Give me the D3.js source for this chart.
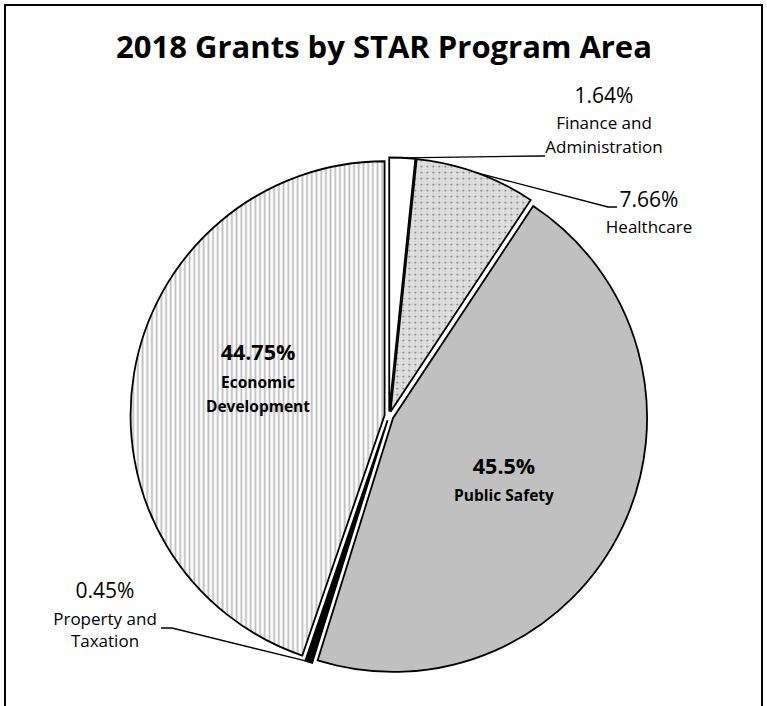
<!DOCTYPE html>
<html><head><meta charset="utf-8">
<script src="https://cdn.jsdelivr.net/npm/d3@7"></script>
<style>body{margin:0;background:#fff}</style>
</head><body><svg id="c" width="767" height="706"></svg>
<script>
const title = "2018 Grants by STAR Program Area";
const categories = ["Finance and Administration","Healthcare","Public Safety","Property and Taxation","Economic Development"];
const values = [1.64, 7.66, 45.5, 0.45, 44.75];
const valueLabels = ["1.64%","7.66%","45.5%","0.45%","44.75%"];
const nameLines = [["Finance and","Administration"],["Healthcare"],["Public Safety"],["Property and","Taxation"],["Economic","Development"]];
const fills = ["#ffffff","url(#dots)","#c0c0c0","#000000","url(#vlines)"];

// layout
const cx = 389, cy = 416, R = 254, explode = 4.5;
const labelLayout = [
  {inside:false, x:604, y:103, gap:[26,24], leader:[[540,156],[545,156]]},
  {inside:false, x:649, y:207, gap:[26], leader:[[608,207],[617,207]]},
  {inside:true,  x:504, y:474, gap:[27]},
  {inside:false, x:105, y:598, gap:[27,22], leader:[[172,628],[161,628]]},
  {inside:true,  x:258, y:360, gap:[28,24]}
];

const svg = d3.select("#c");
const defs = svg.append("defs");
const pv = defs.append("pattern").attr("id","vlines").attr("patternUnits","userSpaceOnUse")
  .attr("width",4.7).attr("height",10);
pv.append("rect").attr("width",4.7).attr("height",10).attr("fill","#fff");
pv.append("rect").attr("x",1.5).attr("width",1.8).attr("height",10).attr("fill","#bdbdbd");
const pd = defs.append("pattern").attr("id","dots").attr("patternUnits","userSpaceOnUse")
  .attr("width",6).attr("height",6);
pd.append("rect").attr("width",6).attr("height",6).attr("fill","#e2e2e2");
pd.append("rect").attr("x",3).attr("y",0).attr("width",1.2).attr("height",1.2).attr("fill","#bcbcbc");
pd.append("rect").attr("x",0).attr("y",3).attr("width",1.2).attr("height",1.2).attr("fill","#bcbcbc");
pd.append("rect").attr("x",3).attr("y",3).attr("width",1.2).attr("height",1.2).attr("fill","#cfcfcf");
pd.append("rect").attr("x",0).attr("y",0).attr("width",1.5).attr("height",1.5).attr("fill","#606060");

// border
svg.append("rect").attr("x",5).attr("y",5).attr("width",757).attr("height",760)
  .attr("fill","none").attr("stroke","#000").attr("stroke-width",2);

svg.append("text").attr("x",384).attr("y",58).attr("text-anchor","middle")
  .attr("font-family","Open Sans").attr("font-weight","bold").attr("font-size",31)
  .text(title);

const pie = d3.pie().sort(null).value(d=>d)(values);
const arc = d3.arc().innerRadius(0).outerRadius(R);
const g = svg.append("g").attr("transform",`translate(${cx},${cy})`);

function offset(d){
  const a = (d.startAngle + d.endAngle)/2;
  return [Math.sin(a)*explode, -Math.cos(a)*explode];
}
g.selectAll("path.slice").data(pie).join("path").attr("class","slice")
  .attr("transform",d=>{const o=offset(d);return `translate(${o[0]},${o[1]})`;})
  .attr("d",arc).attr("fill",(d,i)=>fills[i])
  .attr("stroke","#000").attr("stroke-width",1.8).attr("stroke-linejoin","miter");

// leaders
pie.forEach((d,i)=>{
  const L = labelLayout[i];
  if(L.inside) return;
  const a = (d.startAngle + d.endAngle)/2;
  const o = offset(d);
  const p0 = [cx + o[0] + Math.sin(a)*R, cy + o[1] - Math.cos(a)*R];
  const pts = [p0].concat(L.leader);
  svg.append("path").attr("d", d3.line()(pts)).attr("fill","none")
    .attr("stroke","#000").attr("stroke-width",1.3);
});

// labels
pie.forEach((d,i)=>{
  const L = labelLayout[i];
  const t = svg.append("text").attr("text-anchor","middle").attr("font-family","Open Sans")
    .attr("fill","#000");
  let y = L.y;
  t.append("tspan").attr("x",L.x).attr("y",y)
    .attr("font-size", L.inside ? 21.5 : 21)
    .attr("font-weight", L.inside ? "bold" : "normal").text(valueLabels[i]);
  nameLines[i].forEach((ln,k)=>{
    y += L.gap[k];
    t.append("tspan").attr("x",L.x).attr("y",y)
      .attr("font-size", L.inside ? 15.5 : 17)
      .attr("font-weight", L.inside ? "bold" : "normal").text(ln);
  });
});
</script></body></html>
